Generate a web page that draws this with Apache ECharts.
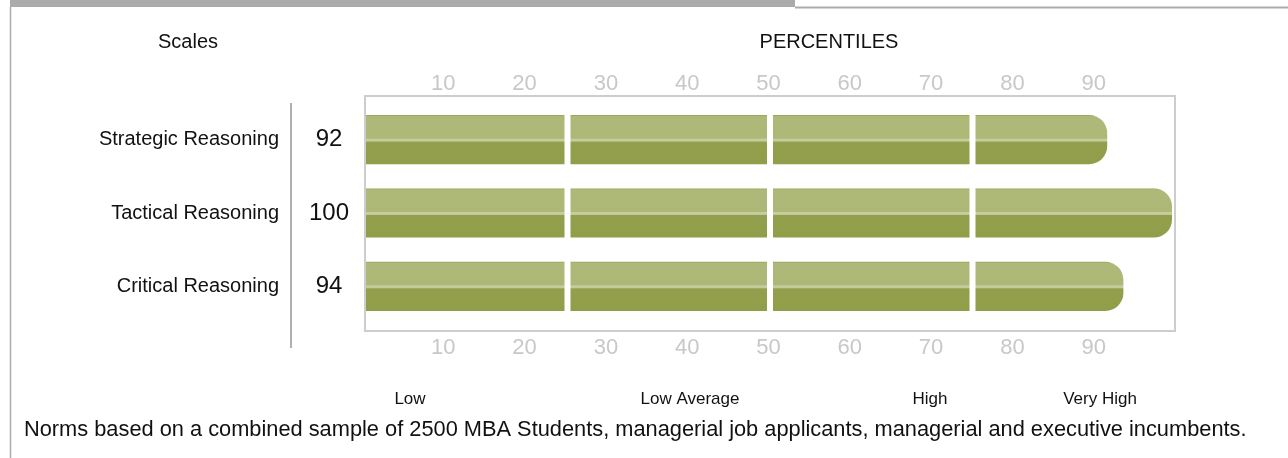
<!DOCTYPE html>
<html>
<head>
<meta charset="utf-8">
<title>Reasoning percentiles</title>
<script src="https://cdn.jsdelivr.net/npm/echarts@6/dist/echarts.min.js"></script>
<style>
html, body { margin: 0; padding: 0; background: #fff; }
#chart { width: 1288px; height: 458px; }
</style>
</head>
<body>
<div id="chart"></div>
<script>
// chart data
var scales = ['Strategic Reasoning', 'Tactical Reasoning', 'Critical Reasoning'];
var scores = [92, 100, 94];
var ticks = [10, 20, 30, 40, 50, 60, 70, 80, 90];
var breaks = [25, 50, 75];
var bands = ['Low', 'Low Average', 'High', 'Very High'];
var footnote = 'Norms based on a combined sample of 2500 MBA Students, managerial job applicants, managerial and executive incumbents.';

var font = '"Liberation Sans", Arial, sans-serif';

var barFill = {
	type: 'linear', x: 0, y: 0, x2: 0, y2: 1,
	colorStops: [
		{ offset: 0, color: '#97a452' },
		{ offset: 0.03, color: '#aeb979' },
		{ offset: 0.47, color: '#adb877' },
		{ offset: 0.49, color: '#c6cea0' },
		{ offset: 0.53, color: '#c2ca9a' },
		{ offset: 0.55, color: '#939f4c' },
		{ offset: 1, color: '#919e49' }
	]
};

// one bar = segments split at the quartile breaks, last one rounded
function renderBar(params, api) {
	var val = api.value(0);
	var cat = api.value(1);
	var h = api.size([0, 1])[1] * 0.67;
	var cy = api.coord([0, cat])[1];
	var edges = [0].concat(breaks.filter(function(b) { return b < val; }), [val]);
	var children = [];
	for (var i = 0; i < edges.length - 1; i++) {
		var x0 = api.coord([edges[i], cat])[0] + (i === 0 ? 1 : 3);
		var x1 = api.coord([edges[i + 1], cat])[0] - 3;
		var last = (i === edges.length - 2);
		children.push({
			type: 'rect',
			shape: { x: x0, y: cy - h / 2, width: x1 - x0, height: h, r: last ? [0, 18, 18, 0] : 0 },
			style: { fill: barFill }
		});
	}
	return { type: 'group', children: children };
}

function tickLabel(v) {
	return ticks.indexOf(v) >= 0 ? String(v) : '';
}

var chart = echarts.init(document.getElementById('chart'), null, { renderer: 'canvas' });

var option = {
	animation: false,
	textStyle: { fontFamily: font },
	grid: [
		// frame box
		{ left: 365, width: 810, top: 96, height: 235, show: true, borderColor: '#cdcdcd', borderWidth: 2, backgroundColor: 'transparent' },
		// bars
		{ left: 365, width: 810, top: 103, height: 220 },
		// percentile tick labels
		{ left: 362, width: 813, top: 96, height: 235 }
	],
	xAxis: [
		{
			gridIndex: 2, type: 'value', position: 'top', min: 0, max: 100, interval: 10,
			axisLine: { show: false }, axisTick: { show: false }, splitLine: { show: false },
			axisLabel: { margin: 1, color: '#c8c8c8', fontSize: 22, fontFamily: font, formatter: tickLabel }
		},
		{
			gridIndex: 2, type: 'value', position: 'bottom', min: 0, max: 100, interval: 10,
			axisLine: { show: false }, axisTick: { show: false }, splitLine: { show: false },
			axisLabel: { margin: 6, color: '#c8c8c8', fontSize: 22, fontFamily: font, formatter: tickLabel }
		},
		{ gridIndex: 1, type: 'value', min: 0, max: 100, show: false },
		{ gridIndex: 0, type: 'value', min: 0, max: 100, show: false }
	],
	yAxis: [
		{ gridIndex: 2, type: 'value', show: false },
		{
			gridIndex: 1, type: 'category', data: scales, inverse: true, position: 'left',
			axisLine: { show: false }, axisTick: { show: false },
			axisLabel: { margin: 86, color: '#111', fontSize: 20, fontFamily: font }
		},
		{
			gridIndex: 1, type: 'category', data: scores.map(String), inverse: true, position: 'left',
			axisLine: { show: false }, axisTick: { show: false },
			axisLabel: { margin: 36, align: 'center', color: '#111', fontSize: 24, fontFamily: font }
		},
		{ gridIndex: 0, type: 'value', show: false }
	],
	series: [{
		type: 'custom',
		xAxisIndex: 2,
		yAxisIndex: 1,
		renderItem: renderBar,
		encode: { x: 0, y: 1 },
		data: scores.map(function(v, i) { return [v, i]; })
	}],
	graphic: [
		// page frame
		{ type: 'rect', shape: { x: 10, y: 0, width: 785, height: 7 }, style: { fill: '#ababab' } },
		{ type: 'line', shape: { x1: 795, y1: 7.5, x2: 1288, y2: 7.5 }, style: { stroke: '#ababab', lineWidth: 2 } },
		{ type: 'line', shape: { x1: 10.5, y1: 7, x2: 10.5, y2: 458 }, style: { stroke: '#ababab', lineWidth: 1.5 } },
		// divider between labels and scores
		{ type: 'line', shape: { x1: 291, y1: 103, x2: 291, y2: 348 }, style: { stroke: '#b0b0b0', lineWidth: 2 } },
		// headers
		{ type: 'text', x: 188, y: 42, style: { text: 'Scales', font: '20px ' + font, fill: '#111', align: 'center', verticalAlign: 'middle' } },
		{ type: 'text', x: 829, y: 42, style: { text: 'PERCENTILES', font: '20px ' + font, fill: '#111', align: 'center', verticalAlign: 'middle' } },
		// band names
		{ type: 'text', x: 410, y: 399, style: { text: bands[0], font: '17px ' + font, fill: '#111', align: 'center', verticalAlign: 'middle' } },
		{ type: 'text', x: 690, y: 399, style: { text: bands[1], font: '17px ' + font, fill: '#111', align: 'center', verticalAlign: 'middle' } },
		{ type: 'text', x: 930, y: 399, style: { text: bands[2], font: '17px ' + font, fill: '#111', align: 'center', verticalAlign: 'middle' } },
		{ type: 'text', x: 1100, y: 399, style: { text: bands[3], font: '17px ' + font, fill: '#111', align: 'center', verticalAlign: 'middle' } },
		// footnote
		{ type: 'text', x: 24, y: 430, style: { text: footnote, font: '21.8px ' + font, fill: '#111', align: 'left', verticalAlign: 'middle' } }
	]
};

chart.setOption(option);
</script>
</body>
</html>
